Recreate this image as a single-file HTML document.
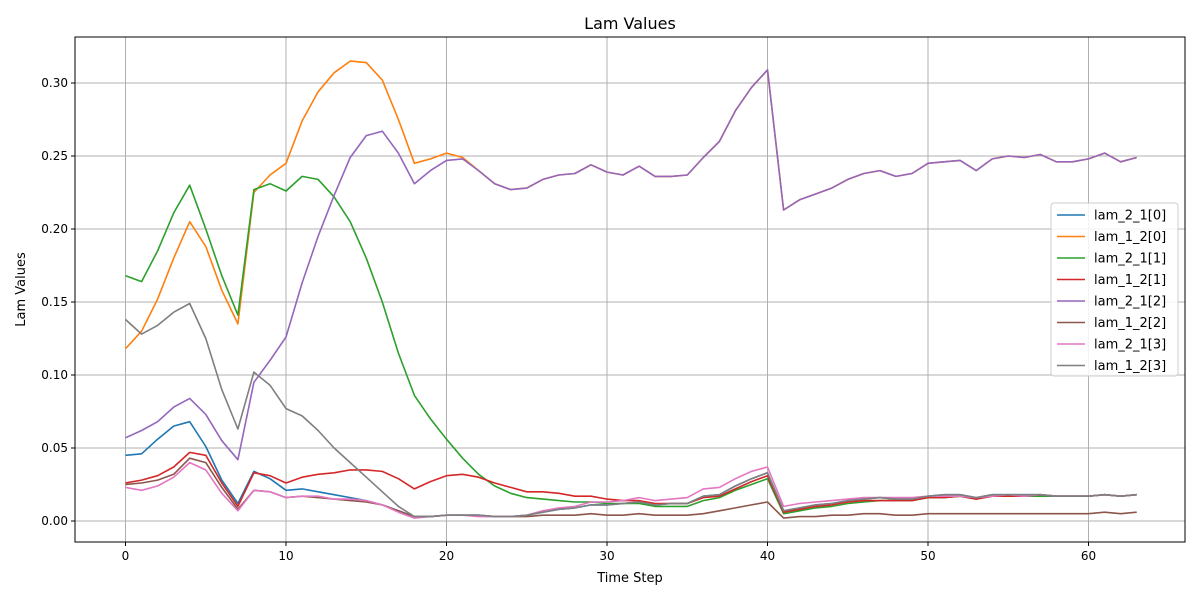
<!DOCTYPE html>
<html><head><meta charset="utf-8"><style>
body{margin:0;background:#fff;font-family:"Liberation Sans","DejaVu Sans",sans-serif}
svg text{font-family:"DejaVu Sans","Liberation Sans",sans-serif}
</style></head><body>
<svg id="chart" width="1200" height="600" xmlns="http://www.w3.org/2000/svg"></svg>
<script>
const steps = Array.from({length:64},(_,i)=>i);
const xTicks=[0,10,20,30,40,50,60];
const yTicks=[0,0.05,0.10,0.15,0.20,0.25,0.30];
const yTickLabels=["0.00","0.05","0.10","0.15","0.20","0.25","0.30"];
const seriesNames=["lam_2_1[0]","lam_1_2[0]","lam_2_1[1]","lam_1_2[1]","lam_2_1[2]","lam_1_2[2]","lam_2_1[3]","lam_1_2[3]"];
const colors=["#1f77b4","#ff7f0e","#2ca02c","#d62728","#9467bd","#8c564b","#e377c2","#7f7f7f"];
const lowTail=[.003,.003,.004,.004,.004,.003,.003,.004,.006,.008,.009,.011,.011,.012,.013,.011,.012,.012,.017,.018,.024,.029,.033,.007,.009,.011,.012,.014,.015,.016,.015,.015,.017,.018,.018,.016,.018,.018,.018,.018,.017,.017,.017,.018,.017,.018];
const s0=[.045,.046,.056,.065,.068,.051,.028,.012,.034,.029,.021,.022,.020,.018,.016,.014,.011,.007].concat(lowTail);
const purple=[.057,.062,.068,.078,.084,.073,.055,.042,.095,.11,.126,.163,.195,.223,.249,.264,.267,.252,.231,.24,.247,.248,.24,.231,.227,.228,.234,.237,.238,.244,.239,.237,.243,.236,.236,.237,.249,.26,.281,.297,.309,.213,.22,.224,.228,.234,.238,.24,.236,.238,.245,.246,.247,.24,.248,.25,.249,.251,.246,.246,.248,.252,.246,.249];
const s1=[.118,.13,.152,.18,.205,.188,.158,.135,.225,.237,.245,.274,.294,.307,.315,.314,.302,.275,.245,.248,.252,.249].concat(purple.slice(22));
const s2=[.168,.164,.185,.211,.23,.2,.168,.141,.227,.231,.226,.236,.234,.222,.205,.18,.15,.115,.086,.07,.056,.043,.032,.024,.019,.016,.015,.014,.013,.013,.012,.012,.012,.01,.01,.01,.014,.016,.021,.025,.029,.005,.007,.009,.01,.012,.013,.014,.014,.014,.016,.016,.017,.015,.017,.017,.017,.017,.017,.017,.017,.018,.017,.018];
const s3=[.026,.028,.031,.037,.047,.045,.026,.01,.033,.031,.026,.03,.032,.033,.035,.035,.034,.029,.022,.027,.031,.032,.03,.026,.023,.02,.02,.019,.017,.017,.015,.014,.014,.012,.012,.012,.016,.017,.022,.027,.031,.006,.008,.01,.011,.013,.014,.014,.014,.014,.016,.016,.017,.015,.017,.017,.017,.018,.017,.017,.017,.018,.017,.018];
const s4=purple;
const s5=[.025,.026,.028,.032,.043,.04,.023,.008,.021,.02,.016,.017,.016,.015,.014,.013,.011,.007,.003,.003,.004,.004,.004,.003,.003,.003,.004,.004,.004,.005,.004,.004,.005,.004,.004,.004,.005,.007,.009,.011,.013,.002,.003,.003,.004,.004,.005,.005,.004,.004,.005,.005,.005,.005,.005,.005,.005,.005,.005,.005,.005,.006,.005,.006];
const s6=[.023,.021,.024,.03,.04,.035,.019,.007,.021,.02,.016,.017,.017,.015,.015,.014,.011,.006,.002,.003,.004,.004,.003,.003,.003,.004,.007,.009,.01,.013,.013,.014,.016,.014,.015,.016,.022,.023,.029,.034,.037,.01,.012,.013,.014,.015,.016,.016,.016,.016,.017,.017,.017,.016,.017,.018,.017,.018,.017,.017,.017,.018,.017,.018];
const s7=[.138,.128,.134,.143,.149,.125,.09,.063,.102,.093,.077,.072,.062,.05,.04,.03,.02,.01].concat(lowTail);
const allSeries=[s0,s1,s2,s3,s4,s5,s6,s7];

const NS="http://www.w3.org/2000/svg";
const svg=document.getElementById('chart');
const L=75,R=1185,T=37,B=542;
const X=v=>125.5+v*16.05;
const Y=v=>521-v*1460;
function mk(tag,attrs,parent){const e=document.createElementNS(NS,tag);for(const k in attrs)e.setAttribute(k,attrs[k]);(parent||svg).appendChild(e);return e;}

const grid=mk('g',{});


xTicks.forEach(t=>{
  const l=mk('line',{x1:X(t),x2:X(t),y1:T,y2:B,stroke:'#b0b0b0','stroke-width':1},grid);
  
  
  const tk=mk('line',{x1:X(t),x2:X(t),y1:B,y2:B+4,stroke:'#000'});
  
  
  const tx=mk('text',{x:X(t),y:B+18,'text-anchor':'middle','font-size':12});
  tx.textContent=t;
  
  
});
yTicks.forEach((t,i)=>{
  const l=mk('line',{x1:L,x2:R,y1:Y(t),y2:Y(t),stroke:'#b0b0b0','stroke-width':1},grid);
  
  
  const tk=mk('line',{x1:L-4,x2:L,y1:Y(t),y2:Y(t),stroke:'#000'});
  
  
  const tx=mk('text',{x:L-7,y:Y(t)+4,'text-anchor':'end','font-size':12});
  tx.textContent=yTickLabels[i];
  
  
});

allSeries.forEach((s,i)=>{
  const d=s.map((v,j)=>(j?'L':'M')+X(steps[j]).toFixed(1)+','+Y(v).toFixed(1)).join('');
  const p=mk('path',{d:d,fill:'none',stroke:colors[i],'stroke-width':1.6,'stroke-linejoin':'round'});
  
  
});

const frame=mk('rect',{x:L,y:T,width:R-L,height:B-T,fill:'none',stroke:'#000','stroke-width':1});



const title=mk('text',{x:(L+R)/2,y:29,'text-anchor':'middle','font-size':16});
title.textContent='Lam Values';


const xt=mk('text',{x:(L+R)/2,y:582,'text-anchor':'middle','font-size':13});
xt.textContent='Time Step';


const yt=mk('text',{x:25,y:(T+B)/2,'text-anchor':'middle','font-size':13,transform:'rotate(-90 25 '+((T+B)/2)+')'});
yt.textContent='Lam Values';



const lg=mk('g',{});


mk('rect',{x:1051,y:203,width:127,height:173,rx:3,fill:'#fff','fill-opacity':0.85,stroke:'#ccc'},lg);
seriesNames.forEach((n,i)=>{
  const y=215+i*21.5;
  const ln=mk('line',{x1:1057,x2:1085,y1:y,y2:y,stroke:colors[i],'stroke-width':1.6},lg);
  
  
  const tx=mk('text',{x:1094,y:y+4.5,'font-size':13},lg);
  tx.textContent=n;
  
  
});
</script>
</body></html>
